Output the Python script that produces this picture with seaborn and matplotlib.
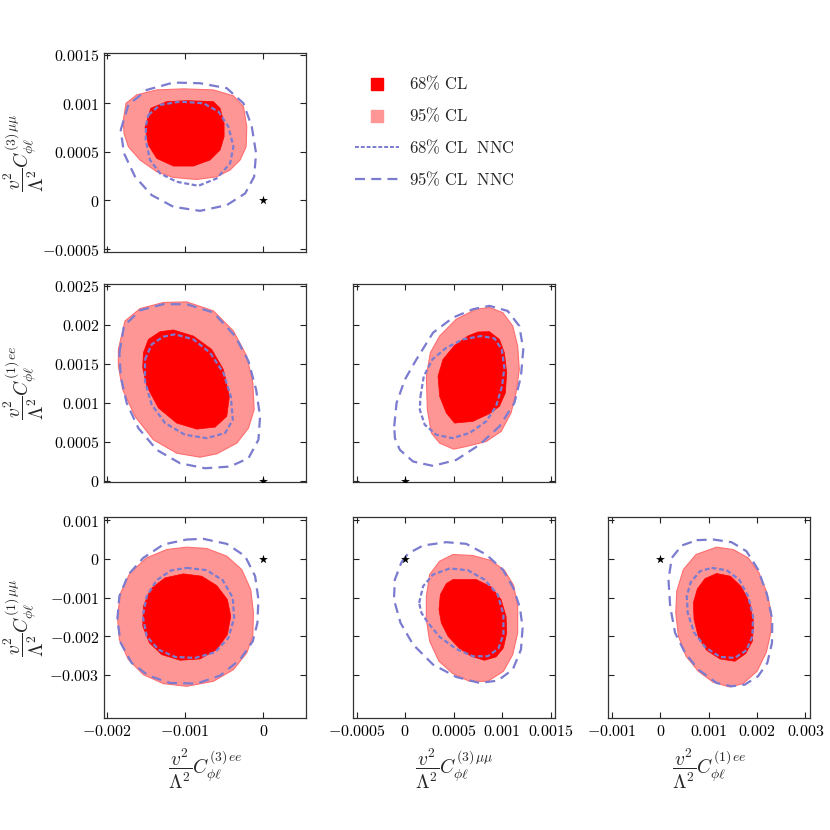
import numpy as np
import seaborn as sns
import matplotlib
matplotlib.use("Agg")
import matplotlib.pyplot as plt
from matplotlib.lines import Line2D
from matplotlib.ticker import FixedLocator, FuncFormatter

# Contour outlines, in units of 1e-3
# panel (C3ee, C3mumu)
a68 = [(-1.438, 0.948), (-1.234, 1.017), (-0.979, 1.027), (-0.638, 1.017), (-0.553, 0.948),
       (-0.502, 0.794), (-0.502, 0.656), (-0.553, 0.519), (-0.681, 0.416), (-0.894, 0.354),
       (-1.149, 0.354), (-1.362, 0.433), (-1.468, 0.570), (-1.511, 0.753)]
a95 = [(-1.787, 0.828), (-1.753, 1.0), (-1.617, 1.086), (-1.362, 1.137), (-1.021, 1.148),
       (-0.638, 1.137), (-0.383, 1.076), (-0.255, 0.966), (-0.213, 0.759), (-0.221, 0.553),
       (-0.298, 0.416), (-0.426, 0.313), (-0.596, 0.244), (-0.851, 0.216), (-1.149, 0.237),
       (-1.362, 0.296), (-1.574, 0.416), (-1.723, 0.553), (-1.779, 0.691)]
a68n = [(-1.468, 0.880), (-1.319, 0.983), (-1.064, 1.017), (-0.766, 1.0), (-0.574, 0.914),
        (-0.447, 0.759), (-0.383, 0.553), (-0.426, 0.381), (-0.596, 0.227), (-0.830, 0.151),
        (-1.106, 0.192), (-1.319, 0.278), (-1.447, 0.416), (-1.502, 0.622), (-1.498, 0.777)]
a95n = [(-1.821, 0.725), (-1.723, 0.983), (-1.489, 1.137), (-1.149, 1.213), (-0.809, 1.206),
        (-0.468, 1.155), (-0.255, 1.0), (-0.149, 0.759), (-0.094, 0.485), (-0.119, 0.244),
        (-0.234, 0.072), (-0.468, -0.048), (-0.809, -0.107), (-1.149, -0.065), (-1.426, 0.055),
        (-1.638, 0.244), (-1.779, 0.485)]

# panel (C3ee, C1ee)
b68 = [(-1.532, 1.644), (-1.468, 1.815), (-1.319, 1.914), (-1.149, 1.936), (-0.894, 1.858),
       (-0.660, 1.687), (-0.511, 1.429), (-0.434, 1.086), (-0.468, 0.828), (-0.617, 0.691),
       (-0.851, 0.665), (-1.106, 0.742), (-1.340, 0.936), (-1.489, 1.215), (-1.540, 1.451)]
b95 = [(-1.851, 1.687), (-1.766, 2.052), (-1.574, 2.210), (-1.277, 2.288), (-0.979, 2.296),
       (-0.638, 2.180), (-0.383, 1.923), (-0.213, 1.601), (-0.136, 1.258), (-0.119, 0.914),
       (-0.191, 0.678), (-0.340, 0.485), (-0.596, 0.348), (-0.809, 0.305), (-1.106, 0.356),
       (-1.404, 0.528), (-1.638, 0.828), (-1.796, 1.172), (-1.851, 1.472)]
b68n = [(-1.511, 1.558), (-1.426, 1.751), (-1.277, 1.850), (-1.128, 1.880), (-0.894, 1.815),
        (-0.681, 1.644), (-0.511, 1.386), (-0.417, 1.086), (-0.391, 0.785), (-0.489, 0.614),
        (-0.723, 0.549), (-1.0, 0.592), (-1.255, 0.742), (-1.426, 0.979), (-1.511, 1.279)]
b95n = [(-1.838, 1.644), (-1.779, 1.987), (-1.574, 2.189), (-1.277, 2.266), (-0.979, 2.266),
        (-0.638, 2.159), (-0.362, 1.858), (-0.191, 1.536), (-0.094, 1.172), (-0.043, 0.828),
        (-0.064, 0.528), (-0.191, 0.292), (-0.426, 0.185), (-0.745, 0.163), (-1.064, 0.227),
        (-1.362, 0.399), (-1.596, 0.678), (-1.745, 1.0), (-1.821, 1.343)]

# panel (C3mumu, C1ee)
c68 = [(0.75, 1.910), (0.870, 1.914), (0.973, 1.815), (1.024, 1.644), (1.048, 1.386),
       (1.034, 1.129), (0.973, 0.957), (0.870, 0.863), (0.699, 0.764), (0.510, 0.742),
       (0.425, 0.871), (0.356, 1.086), (0.339, 1.343), (0.390, 1.558), (0.510, 1.738),
       (0.647, 1.858)]
c95 = [(0.219, 1.343), (0.260, 1.644), (0.356, 1.858), (0.527, 2.073), (0.733, 2.202),
       (0.870, 2.223), (1.007, 2.159), (1.110, 1.987), (1.161, 1.730), (1.178, 1.429),
       (1.144, 1.129), (1.092, 0.871), (0.990, 0.635), (0.836, 0.506), (0.630, 0.442),
       (0.5, 0.408), (0.356, 0.485), (0.271, 0.614), (0.229, 0.914)]
c68n = [(0.158, 1.086), (0.192, 1.343), (0.281, 1.558), (0.425, 1.708), (0.596, 1.815),
        (0.784, 1.858), (0.921, 1.828), (0.997, 1.687), (1.024, 1.451), (1.0, 1.215),
        (0.938, 0.957), (0.836, 0.764), (0.664, 0.614), (0.486, 0.549), (0.322, 0.592),
        (0.202, 0.721), (0.151, 0.914)]
c95n = [(-0.113, 0.700), (-0.089, 1.0), (-0.003, 1.300), (0.116, 1.558), (0.288, 1.901),
        (0.493, 2.094), (0.699, 2.202), (0.870, 2.245), (1.058, 2.180), (1.178, 1.987),
        (1.219, 1.687), (1.195, 1.343), (1.127, 1.0), (0.973, 0.700), (0.767, 0.464),
        (0.527, 0.270), (0.288, 0.193), (0.082, 0.249), (-0.055, 0.399), (-0.106, 0.549)]

# panel (C3ee, C1mumu)
d68 = [(-1.021, -0.388), (-0.787, -0.448), (-0.596, -0.690), (-0.460, -1.052), (-0.417, -1.483),
       (-0.460, -1.957), (-0.596, -2.345), (-0.809, -2.586), (-1.064, -2.621), (-1.298, -2.474),
       (-1.455, -2.172), (-1.540, -1.741), (-1.532, -1.224), (-1.438, -0.776), (-1.255, -0.491)]
d95 = [(-0.979, 0.302), (-0.723, 0.267), (-0.468, 0.069), (-0.277, -0.276), (-0.162, -0.793),
       (-0.128, -1.397), (-0.136, -2.0), (-0.213, -2.431), (-0.383, -2.862), (-0.638, -3.164),
       (-0.979, -3.293), (-1.277, -3.224), (-1.532, -2.991), (-1.723, -2.603), (-1.838, -2.086),
       (-1.864, -1.483), (-1.821, -0.879), (-1.702, -0.362), (-1.489, 0.026), (-1.234, 0.241)]
d68n = [(-0.979, -0.233), (-0.723, -0.293), (-0.519, -0.552), (-0.391, -1.009), (-0.374, -1.526),
        (-0.447, -2.043), (-0.617, -2.414), (-0.872, -2.560), (-1.128, -2.534), (-1.340, -2.345),
        (-1.489, -2.0), (-1.540, -1.483), (-1.489, -0.966), (-1.362, -0.552), (-1.183, -0.302)]
d95n = [(-0.979, 0.5), (-0.766, 0.517), (-0.468, 0.388), (-0.234, 0.069), (-0.106, -0.448),
        (-0.064, -1.052), (-0.077, -1.655), (-0.136, -2.129), (-0.298, -2.603), (-0.553, -3.017),
        (-0.851, -3.224), (-1.191, -3.207), (-1.468, -3.017), (-1.681, -2.690), (-1.821, -2.172),
        (-1.864, -1.569), (-1.838, -0.966), (-1.723, -0.405), (-1.532, 0.026), (-1.277, 0.371)]

# panel (C3mumu, C1mumu)
e68 = [(0.493, -0.534), (0.733, -0.534), (0.887, -0.724), (0.990, -1.052), (1.041, -1.483),
       (1.048, -1.914), (1.014, -2.302), (0.938, -2.534), (0.818, -2.621), (0.682, -2.517),
       (0.555, -2.302), (0.442, -2.0), (0.373, -1.655), (0.349, -1.310), (0.363, -0.922),
       (0.425, -0.638)]
e95 = [(0.493, 0.112), (0.699, 0.086), (0.887, -0.043), (1.024, -0.293), (1.120, -0.690),
       (1.161, -1.224), (1.161, -1.914), (1.110, -2.474), (1.014, -2.905), (0.853, -3.164),
       (0.664, -3.164), (0.493, -2.966), (0.349, -2.647), (0.253, -2.129), (0.219, -1.569),
       (0.219, -0.966), (0.253, -0.405), (0.356, -0.060)]
e68n = [(0.144, -1.138), (0.185, -0.707), (0.288, -0.405), (0.459, -0.250), (0.647, -0.293),
        (0.818, -0.534), (0.955, -0.922), (1.014, -1.440), (1.014, -1.957), (0.962, -2.319),
        (0.853, -2.517), (0.699, -2.517), (0.527, -2.328), (0.356, -2.017), (0.236, -1.655),
        (0.168, -1.397)]
e95n = [(-0.038, -0.086), (0.031, 0.138), (0.185, 0.345), (0.425, 0.431), (0.630, 0.388),
        (0.836, 0.112), (1.007, -0.276), (1.116, -0.750), (1.185, -1.267), (1.212, -1.784),
        (1.195, -2.345), (1.110, -2.862), (0.955, -3.147), (0.767, -3.207), (0.527, -3.052),
        (0.288, -2.733), (0.082, -2.216), (-0.048, -1.655), (-0.116, -1.052), (-0.106, -0.534)]

# panel (C1ee, C1mumu)
f68 = [(1.164, -0.379), (1.452, -0.448), (1.678, -0.724), (1.849, -1.138), (1.932, -1.655),
       (1.904, -2.129), (1.767, -2.448), (1.541, -2.647), (1.233, -2.586), (0.959, -2.362),
       (0.788, -2.017), (0.699, -1.569), (0.685, -1.138), (0.767, -0.776), (0.925, -0.509)]
f95 = [(1.164, 0.302), (1.507, 0.241), (1.815, 0.026), (2.041, -0.362), (2.205, -0.879),
       (2.295, -1.397), (2.281, -1.914), (2.192, -2.414), (2.0, -2.905), (1.712, -3.224),
       (1.438, -3.310), (1.096, -3.190), (0.788, -2.905), (0.534, -2.517), (0.377, -2.0),
       (0.322, -1.397), (0.342, -0.836), (0.479, -0.276), (0.740, 0.112)]
f68n = [(1.062, -0.233), (1.370, -0.293), (1.630, -0.534), (1.815, -0.966), (1.918, -1.483),
        (1.904, -2.0), (1.781, -2.362), (1.541, -2.560), (1.233, -2.534), (0.925, -2.276),
        (0.699, -1.897), (0.568, -1.397), (0.548, -0.966), (0.630, -0.603), (0.822, -0.319)]
f95n = [(0.753, 0.483), (1.096, 0.5), (1.473, 0.431), (1.781, 0.198), (2.021, -0.276),
        (2.205, -0.922), (2.315, -1.569), (2.308, -2.172), (2.212, -2.690), (2.021, -3.034),
        (1.747, -3.250), (1.473, -3.293), (1.164, -3.207), (0.788, -2.862), (0.514, -2.431),
        (0.308, -1.914), (0.205, -1.224), (0.171, -0.534), (0.240, 0.026), (0.445, 0.345)]

# axis ranges and ticks (real units)
xlim_c3ee = (-0.00203, 0.00054)
xlim_c3mm = (-0.000535, 0.001544)
xlim_c1ee = (-0.00107, 0.00309)
ylim_c3mm = (-0.00053, 0.00152)
ylim_c1ee = (-0.000013, 0.002526)
ylim_c1mm = (-0.00412, 0.00109)
xt_c3ee = [-0.002, -0.001, 0]
xt_c3mm = [-0.0005, 0, 0.0005, 0.001, 0.0015]
xt_c1ee = [-0.001, 0, 0.001, 0.002, 0.003]
yt_c3mm = [-0.0005, 0, 0.0005, 0.001, 0.0015]
yt_c1ee = [0, 0.0005, 0.001, 0.0015, 0.002, 0.0025]
yt_c1mm = [-0.003, -0.002, -0.001, 0, 0.001]

lab_c3ee = r'$\dfrac{v^2}{\Lambda^2}C_{\phi\ell}^{(3)\,ee}$'
lab_c3mm = r'$\dfrac{v^2}{\Lambda^2}C_{\phi\ell}^{(3)\,\mu\mu}$'
lab_c1ee = r'$\dfrac{v^2}{\Lambda^2}C_{\phi\ell}^{(1)\,ee}$'
lab_c1mm = r'$\dfrac{v^2}{\Lambda^2}C_{\phi\ell}^{(1)\,\mu\mu}$'

sns.set_style("ticks")
plt.rcParams['mathtext.fontset'] = 'cm'
plt.rcParams['font.family'] = ['DejaVu Serif']
plt.rcParams['font.size'] = 11

RED = '#ff0000'
PINK = '#ff9696'
BLUE = '#7b7bcf'
SHORT = (0, (2.2, 1.2))
LONG = (0, (4.5, 2.8))

fig = plt.figure(figsize=(8.3, 8.3), dpi=100)


def fmt(v, pos):
    return '$%g$' % round(v, 6)


def panel(rect, c95, c68, c95n, c68n, xlim, ylim, xt, yt, showx, showy):
    ax = fig.add_axes(rect)
    p95 = np.array(c95) * 1e-3
    p68 = np.array(c68) * 1e-3
    ax.fill(p95[:, 0], p95[:, 1], facecolor=PINK, edgecolor='#ff6e6e', lw=0.8, zorder=1)
    ax.fill(p68[:, 0], p68[:, 1], facecolor=RED, edgecolor=RED, lw=0.5, zorder=2)
    for pts, ls in ((c68n, SHORT), (c95n, LONG)):
        p = np.array(pts + pts[:1]) * 1e-3
        ax.plot(p[:, 0], p[:, 1], color=BLUE, lw=1.6, ls=ls, zorder=3)
    sns.scatterplot(x=[0], y=[0], marker='*', color='k', s=45, linewidth=0, ax=ax, zorder=4)
    ax.set_xlim(xlim)
    ax.set_ylim(ylim)
    ax.xaxis.set_major_locator(FixedLocator(xt))
    ax.yaxis.set_major_locator(FixedLocator(yt))
    ax.xaxis.set_major_formatter(FuncFormatter(fmt))
    ax.yaxis.set_major_formatter(FuncFormatter(fmt))
    ax.tick_params(direction='in', top=True, right=True, length=4, width=0.8,
                   labelsize=11.5, colors='#222222', labelcolor='black')
    if not showx:
        ax.tick_params(labelbottom=False)
    if not showy:
        ax.tick_params(labelleft=False)
    for s in ax.spines.values():
        s.set_linewidth(0.9)
        s.set_color('#333333')
    return ax


def ylab(ax, text):
    ax.set_ylabel(text, fontsize=14)
    ax.yaxis.set_label_coords(-0.29, 0.5)


def xlab(ax, text):
    ax.set_xlabel(text, fontsize=14)
    ax.xaxis.set_label_coords(0.5, -0.14)


cols = [0.1257, 0.4257, 0.733]
w = 0.2427
rows = [(0.6964, 0.2401), (0.4193, 0.2386), (0.1346, 0.2429)]

ax1 = panel([cols[0], rows[0][0], w, rows[0][1]], a95, a68, a95n, a68n,
            xlim_c3ee, ylim_c3mm, xt_c3ee, yt_c3mm, False, True)
ylab(ax1, lab_c3mm)

ax2 = panel([cols[0], rows[1][0], w, rows[1][1]], b95, b68, b95n, b68n,
            xlim_c3ee, ylim_c1ee, xt_c3ee, yt_c1ee, False, True)
ylab(ax2, lab_c1ee)

ax3 = panel([cols[1], rows[1][0], w, rows[1][1]], c95, c68, c95n, c68n,
            xlim_c3mm, ylim_c1ee, xt_c3mm, yt_c1ee, False, False)

ax4 = panel([cols[0], rows[2][0], w, rows[2][1]], d95, d68, d95n, d68n,
            xlim_c3ee, ylim_c1mm, xt_c3ee, yt_c1mm, True, True)
ylab(ax4, lab_c1mm)
xlab(ax4, lab_c3ee)

ax5 = panel([cols[1], rows[2][0], w, rows[2][1]], e95, e68, e95n, e68n,
            xlim_c3mm, ylim_c1mm, xt_c3mm, yt_c1mm, True, False)
xlab(ax5, lab_c3mm)

ax6 = panel([cols[2], rows[2][0], w, rows[2][1]], f95, f68, f95n, f68n,
            xlim_c1ee, ylim_c1mm, xt_c1ee, yt_c1mm, True, False)
xlab(ax6, lab_c1ee)

handles = [
    Line2D([], [], ls='none', marker='s', ms=9, mfc=RED, mec=RED),
    Line2D([], [], ls='none', marker='s', ms=9, mfc=PINK, mec=PINK),
    Line2D([], [], color=BLUE, lw=1.4, ls=(0, (2.0, 1.0))),
    Line2D([], [], color=BLUE, lw=1.6, ls=(0, (4.5, 2.8))),
]
labels = [r'$68\%\ \mathrm{CL}$', r'$95\%\ \mathrm{CL}$',
          r'$68\%\ \mathrm{CL}\ \ \mathrm{NNC}$', r'$95\%\ \mathrm{CL}\ \ \mathrm{NNC}$']
fig.legend(handles, labels, loc='upper left', bbox_to_anchor=(0.418, 0.9195),
           frameon=False, fontsize=12, handlelength=2.6, handletextpad=0.6,
           labelspacing=0.8, borderpad=0)

fig.savefig('out.png', dpi=100)
